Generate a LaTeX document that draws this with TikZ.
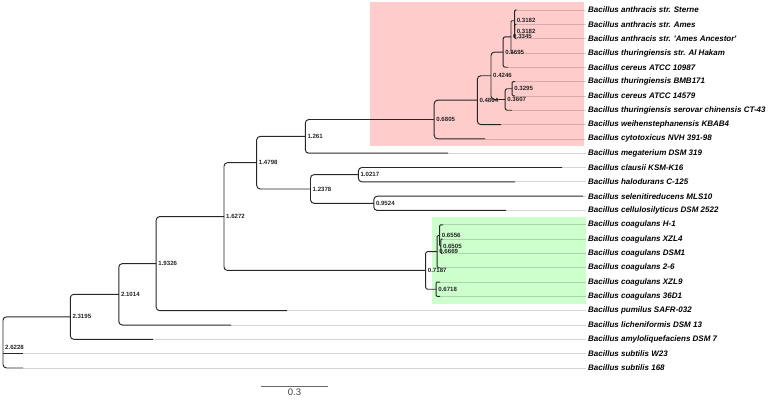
\documentclass[tikz,border=0pt]{standalone}
\usepackage{fontspec}
\setmainfont{Liberation Sans}
\definecolor{pinkbox}{RGB}{255,204,204}
\definecolor{greenbox}{RGB}{204,255,204}
\begin{document}
\begin{tikzpicture}[x=1pt,y=-14.32pt,
  branch/.style={draw=black!85, line width=0.95pt, rounded corners=3.5pt},
  fine/.style={draw=black!85, line width=0.95pt, rounded corners=1pt},
  midb/.style={draw=black!85, line width=0.95pt, rounded corners=2pt},
  leader/.style={draw=black, opacity=0.16, line width=0.7pt},
  taxon/.style={anchor=west, inner sep=0pt, font=\fontsize{8}{9}\selectfont\bfseries\itshape},
  blabel/.style={anchor=west, inner sep=0pt, xshift=2pt, font=\fontsize{6.1}{7}\selectfont\bfseries, text=black!85},
  scalebar/.style={draw=black!60, line width=0.8pt}
]
\useasboundingbox (0,0) rectangle (769,28.073);
\fill[pinkbox] (370,0.14) rectangle (584,10.2);
\fill[greenbox] (432,15.15) rectangle (586,21.23);

% tips, labels and leaders
\foreach \i/\x/\txt in {
 1/517/Bacillus anthracis str. Sterne,
 2/515.5/Bacillus anthracis str. Ames,
 3/515.5/Bacillus anthracis str. \textquotesingle Ames Ancestor\textquotesingle,
 4/513.5/Bacillus thuringiensis str. Al Hakam,
 5/508/Bacillus cereus ATCC 10987,
 6/515/Bacillus thuringiensis BMB171,
 7/515/Bacillus cereus ATCC 14579,
 8/512/Bacillus thuringiensis serovar chinensis CT-43,
 9/501/Bacillus weihenstephanensis KBAB4,
 10/485/Bacillus cytotoxicus NVH 391-98,
 11/448/Bacillus megaterium DSM 319,
 12/562/Bacillus clausii KSM-K16,
 13/515/Bacillus halodurans C-125,
 14/583/Bacillus selenitireducens MLS10,
 15/506/Bacillus cellulosilyticus DSM 2522,
 16/443/Bacillus coagulans H-1,
 17/442.5/Bacillus coagulans XZL4,
 18/442.5/Bacillus coagulans DSM1,
 19/440/Bacillus coagulans 2-6,
 20/440/Bacillus coagulans XZL9,
 21/440/Bacillus coagulans 36D1,
 22/287/Bacillus pumilus SAFR-032,
 23/231/Bacillus licheniformis DSM 13,
 24/153/Bacillus amyloliquefaciens DSM 7,
 25/23/Bacillus subtilis W23,
 26/23/Bacillus subtilis 168}{
  \coordinate (t\i) at (\x,\i-0.302);
  \node[taxon] (l\i) at (588,\i-0.302) {\txt};
  \draw[leader] (t\i) -- ([xshift=-2pt]l\i.west);
}

% internal nodes
\coordinate (q1) at (514.6,2.198);
\coordinate (q2) at (514.6,1.448);
\coordinate (m3345) at (511.0,2.573);
\coordinate (m3695) at (503.2,3.6355);
\coordinate (m3295) at (512.1,6.198);
\coordinate (m3607) at (505.2,6.948);
\coordinate (m4246) at (491.0,5.29175);
\coordinate (m4864) at (477.3,6.9949);
\coordinate (m6805) at (434.2,8.3464);
\coordinate (m1261) at (305.3,9.5222);
\coordinate (m10217) at (358.4,12.198);
\coordinate (m9524) at (373.8,14.198);
\coordinate (m12378) at (310.5,13.198);
\coordinate (m14798) at (256.7,11.3601);
\coordinate (m6505) at (440.8,17.198);
\coordinate (m6556) at (439.7,16.448);
\coordinate (m6669) at (437.2,17.573);
\coordinate (m6718) at (436.1,20.198);
\coordinate (m7187) at (425.7,18.8855);
\coordinate (m16272) at (224.0,15.1228);
\coordinate (m19326) at (156.2,18.4104);
\coordinate (m21014) at (118.8,20.5542);
\coordinate (m23195) at (70.3,22.1261);
\coordinate (root) at (3,23.912);

% branches
\draw[fine] (t2) -| (q1) |- (t3);
\draw[fine] (t1) -| (q2) |- (q1);
\draw[fine] (q2) -| (m3345) |- (t4);
\draw[midb] (m3345) -| (m3695) |- (t5);
\draw[fine] (t6) -| (m3295) |- (t7);
\draw[midb] (m3295) -| (m3607) |- (t8);
\draw[branch] (m3695) -| (m4246) |- (m3607);
\draw[branch] (m4246) -| (m4864) |- (t9);
\draw[branch] (m4864) -| (m6805) |- (t10);
\draw[branch] (m6805) -| (m1261) |- (t11);
\draw[branch] (t12) -| (m10217) |- (t13);
\draw[branch] (t14) -| (m9524) |- (t15);
\draw[branch] (m10217) -| (m12378) |- (m9524);
\draw[branch] (m1261) -| (m14798) |- (m12378);
\draw[fine] (t17) -| (m6505) |- (t18);
\draw[fine] (t16) -| (m6556) |- (m6505);
\draw[fine] (m6556) -| (m6669) |- (t19);
\draw[fine] (t20) -| (m6718) |- (t21);
\draw[midb] (m6669) -| (m7187) |- (m6718);
\draw[branch] (m14798) -| (m16272) |- (m7187);
\draw[branch] (m16272) -| (m19326) |- (t22);
\draw[branch] (m19326) -| (m21014) |- (t23);
\draw[branch] (m21014) -| (m23195) |- (t24);
\draw[branch] (m23195) -| (root) |- (t26);
\draw[branch] (root |- t25) -- (t25);

% node labels
\node[blabel] (b1) at (q2) {0.3182};
\node[blabel] (b2) at (q1) {0.3182};
\node[blabel] (b3) at (m3345) {0.3345};
\node[blabel] (b4) at (m3695) {0.3695};
\node[blabel] (b5) at (m3295) {0.3295};
\node[blabel] (b6) at (m3607) {0.3607};
\node[blabel] (b7) at (m4246) {0.4246};
\node[blabel] (b8) at (m4864) {0.4864};
\node[blabel] (b9) at (m6805) {0.6805};
\node[blabel] (b10) at (m1261) {1.261};
\node[blabel] (b11) at (m10217) {1.0217};
\node[blabel] (b12) at (m9524) {0.9524};
\node[blabel] (b13) at (m12378) {1.2378};
\node[blabel] (b14) at (m14798) {1.4798};
\node[blabel] (b15) at (m6556) {0.6556};
\node[blabel] (b16) at (m6505) {0.6505};
\node[blabel] (b17) at (m6669) {0.6669};
\node[blabel] (b18) at (m7187) {0.7187};
\node[blabel] (b19) at (m6718) {0.6718};
\node[blabel] (b20) at (m16272) {1.6272};
\node[blabel] (b21) at (m19326) {1.9326};
\node[blabel] (b22) at (m21014) {2.1014};
\node[blabel] (b23) at (m23195) {2.3195};
\node[blabel] (b24) at ([yshift=-4.5pt]root) {2.6228};

% scale bar
\coordinate (sb1) at (261,26.955);
\coordinate (sb2) at (328,26.955);
\draw[scalebar] (sb1) -- node[below=2pt, inner sep=0pt, font=\fontsize{9.5}{11}\selectfont, text=black!75] (sbl) {0.3} (sb2);
\end{tikzpicture}
\end{document}
